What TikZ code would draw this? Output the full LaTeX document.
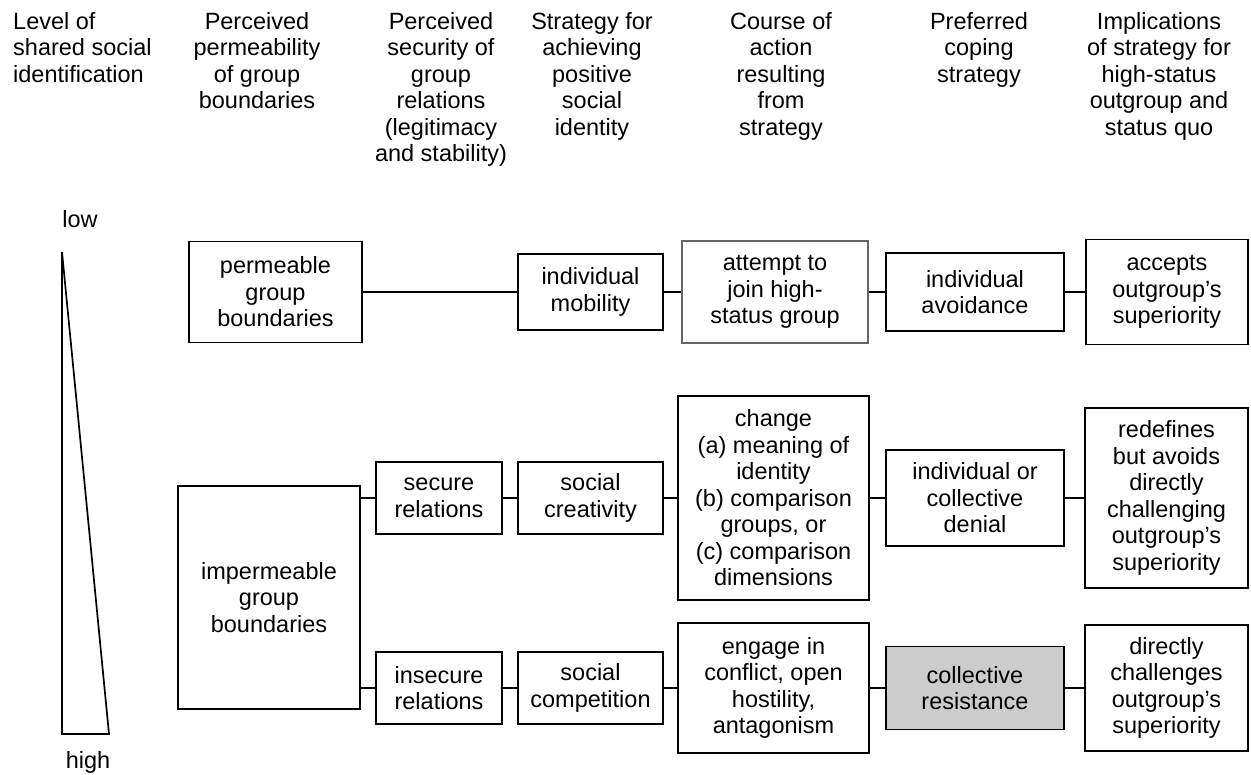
\documentclass[tikz,border=0pt]{standalone}
\usepackage{fontspec}
\setmainfont{Liberation Sans}
\definecolor{resgray}{HTML}{CCCCCC}
\definecolor{attgray}{HTML}{666666}
\begin{document}
\begin{tikzpicture}[x=1pt,y=-1pt,
  every node/.style={font=\fontsize{23.5}{26.5}\selectfont},
  box/.style={draw, line width=1.7pt, inner sep=0pt, align=center},
  conn/.style={line width=1.6pt},
  hdr/.style={inner sep=0pt, align=center, anchor=north}]
\useasboundingbox (0,0) rectangle (1251,775);

% headers
\node[hdr, align=left, anchor=north west] (h1) at (13,12) {Level of\\shared social\\identification};
\node[hdr] (h2) at (257,12) {Perceived\\permeability\\of group\\boundaries};
\node[hdr] (h3) at (441,12) {Perceived\\security of\\group\\relations\\(legitimacy\\and stability)};
\node[hdr] (h4) at (592,12) {Strategy for\\achieving\\positive\\social\\identity};
\node[hdr] (h5) at (781,12) {Course of\\action\\resulting\\from\\strategy};
\node[hdr] (h6) at (979,12) {Preferred\\coping\\strategy};
\node[hdr] (h7) at (1159,12) {Implications\\of strategy for\\high-status\\outgroup and\\status quo};

% identification scale
\node[anchor=base, inner sep=0pt] (low) at (80,228) {low};
\node[anchor=base, inner sep=0pt] (high) at (88,768) {high};
\draw[line width=1.7pt] (62,252) -- (62,734) -- (109,734) -- cycle;

% top row
\node[box, minimum width=173pt, minimum height=101pt] (perm) at (275.5,292) {permeable\\group\\boundaries};
\node[box, minimum width=145pt, minimum height=76pt] (mob) at (590.5,292) {individual\\mobility};
\node[box, draw=attgray, minimum width=186pt, minimum height=102pt] (att) at (775,292) {attempt to\\join high-\\status group};
\node[box, minimum width=178pt, minimum height=78pt] (avo) at (975,292) {individual\\avoidance};
\node[box, minimum width=162pt, minimum height=105pt] (acc) at (1167,292) {accepts\\outgroup’s\\superiority};

% impermeable
\node[box, minimum width=182pt, minimum height=223pt] (imp) at (269,597.5) {impermeable\\group\\boundaries};

% middle row
\node[box, minimum width=126pt, minimum height=72pt] (sec) at (439,498) {secure\\relations};
\node[box, minimum width=145pt, minimum height=72pt] (cre) at (590.5,498) {social\\creativity};
\node[box, minimum width=191pt, minimum height=204pt] (chg) at (773.5,498) {change\\(a) meaning of\\identity\\(b) comparison\\groups, or\\(c) comparison\\dimensions};
\node[box, minimum width=178pt, minimum height=96pt] (den) at (975,498) {individual or\\collective\\denial};
\node[box, minimum width=163pt, minimum height=180pt] (red) at (1166.5,498) {redefines\\but avoids\\directly\\challenging\\outgroup’s\\superiority};

% bottom row
\node[box, minimum width=126pt, minimum height=72pt] (ins) at (439,688) {insecure\\relations};
\node[box, minimum width=145pt, minimum height=72pt] (com) at (590.5,688) {social\\competition};
\node[box, minimum width=191pt, minimum height=130pt] (eng) at (773.5,688) {engage in\\conflict, open\\hostility,\\antagonism};
\node[box, fill=resgray, minimum width=178pt, minimum height=83pt] (res) at (975,688) {collective\\resistance};
\node[box, minimum width=163pt, minimum height=126pt] (dir) at (1166.5,688) {directly\\challenges\\outgroup’s\\superiority};

% connectors
\draw[conn] (perm.east) -- (mob.west);
\draw[conn] (mob.east) -- (att.west);
\draw[conn] (att.east) -- (avo.west);
\draw[conn] (avo.east) -- (acc.west);
\draw[conn] (imp.east |- sec.west) -- (sec.west);
\draw[conn] (sec.east) -- (cre.west);
\draw[conn] (cre.east) -- (chg.west);
\draw[conn] (chg.east) -- (den.west);
\draw[conn] (den.east) -- (red.west);
\draw[conn] (imp.east |- ins.west) -- (ins.west);
\draw[conn] (ins.east) -- (com.west);
\draw[conn] (com.east) -- (eng.west);
\draw[conn] (eng.east) -- (res.west);
\draw[conn] (res.east) -- (dir.west);
\end{tikzpicture}
\end{document}
